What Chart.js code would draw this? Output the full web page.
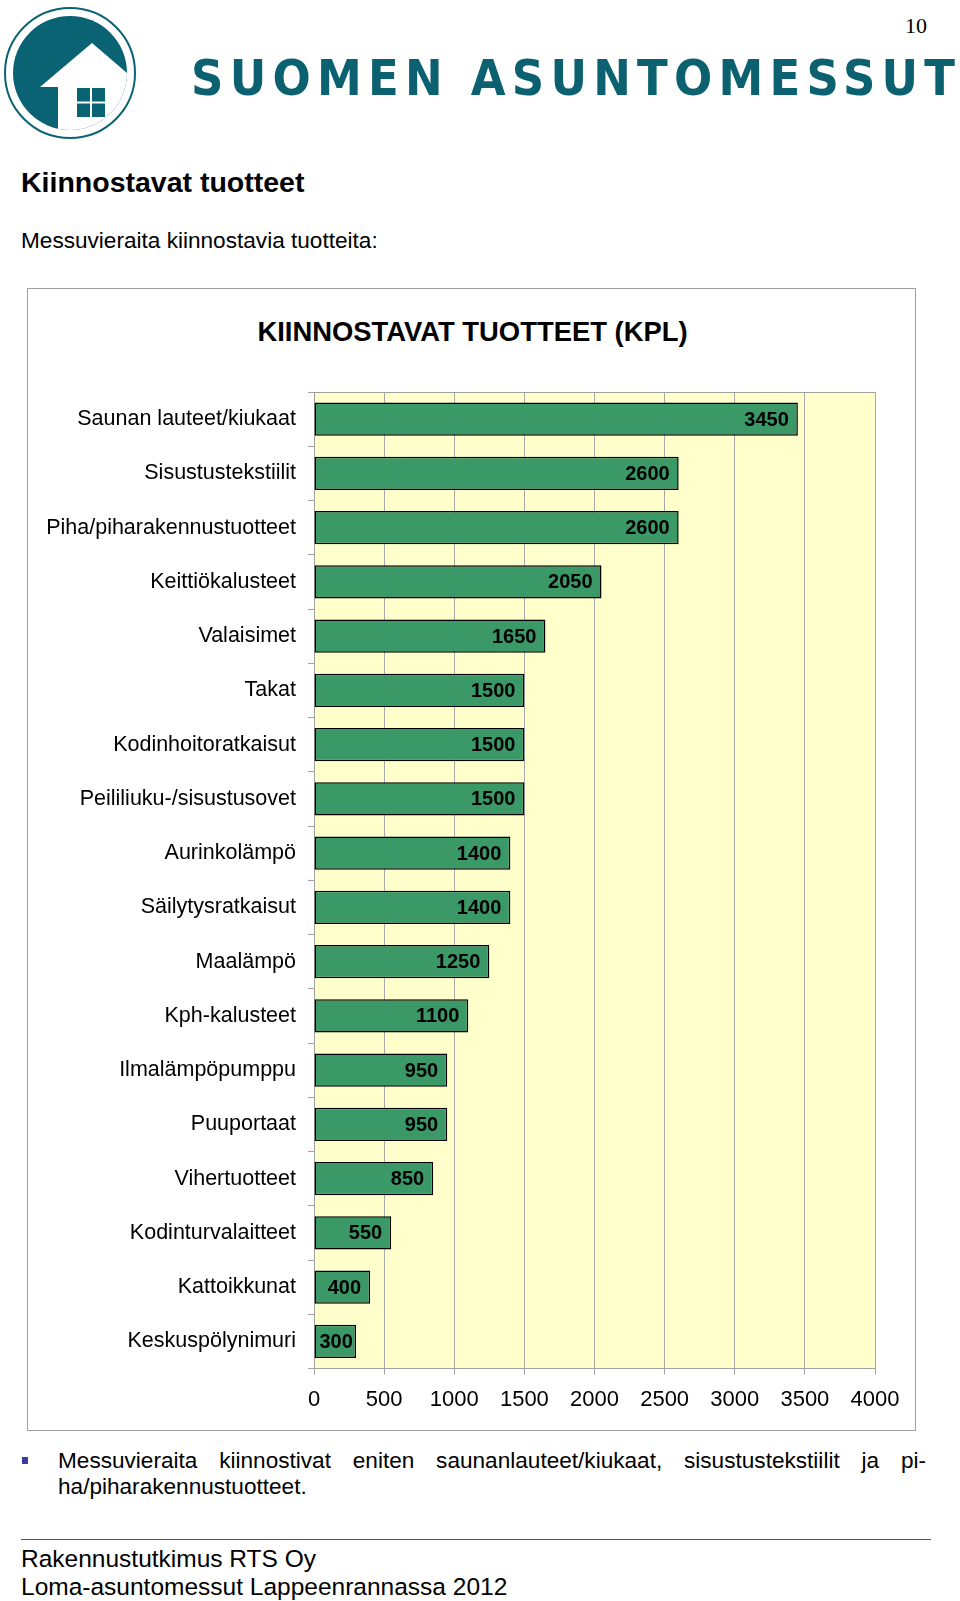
<!DOCTYPE html>
<html>
<head>
<meta charset="utf-8">
<script src="https://cdn.jsdelivr.net/npm/chart.js@4.4.1/dist/chart.umd.min.js"></script>
<style>
  html, body { margin:0; padding:0; background:#fff; }
  body { width:960px; height:1601px; position:relative; overflow:hidden; font-family:"Liberation Sans", Arial, sans-serif; color:#000; }
  .abs { position:absolute; white-space:nowrap; line-height:1; }
  #box { position:absolute; left:27px; top:288px; width:889px; height:1143px; border:1px solid #a0a0a0; box-sizing:border-box; }
  #wrap { position:absolute; left:28px; top:288px; width:889px; height:1144px; }
</style>
</head>
<body>
<svg class="abs" style="left:0;top:0" width="960" height="150" viewBox="0 0 960 150">
  <defs><clipPath id="cc"><circle cx="70" cy="73" r="57"/></clipPath></defs>
  <circle cx="70" cy="73" r="65" fill="none" stroke="#0a6372" stroke-width="2"/>
  <circle cx="70" cy="73" r="57" fill="#0a6372"/>
  <g clip-path="url(#cc)">
    <polygon points="40,87 92,43 140,84 140,140 58,140 58,87" fill="#fff"/>
  </g>
  <rect x="77" y="88" width="13" height="13.5" fill="#0a6372"/>
  <rect x="92" y="88" width="13" height="13.5" fill="#0a6372"/>
  <rect x="77" y="103.5" width="13" height="13.5" fill="#0a6372"/>
  <rect x="92" y="103.5" width="13" height="13.5" fill="#0a6372"/>
  <text x="191" y="95" font-family="DejaVu Sans Condensed, DejaVu Sans" font-stretch="condensed" font-weight="bold" font-size="50" fill="#0b6170" textLength="764" lengthAdjust="spacing">SUOMEN ASUNTOMESSUT</text>
  <text x="927" y="33" text-anchor="end" font-family="Liberation Serif" font-size="22" fill="#000">10</text>
</svg>

<div class="abs" style="left:21px;top:168px;font-size:28.5px;font-weight:bold;">Kiinnostavat tuotteet</div>
<div class="abs" style="left:21px;top:230px;font-size:22.6px;">Messuvieraita kiinnostavia tuotteita:</div>

<div id="box"></div>
<div class="abs" style="left:28px;width:889px;text-align:center;top:318px;font-size:27.4px;font-weight:bold;">KIINNOSTAVAT TUOTTEET (KPL)</div>
<div id="wrap"><canvas id="c" width="889" height="1144"></canvas></div>

<div class="abs" style="left:22px;top:1457px;width:6px;height:7px;background:#3a3aa0;"></div>
<div class="abs" style="left:58px;top:1450px;width:868px;font-size:22.6px;text-align:justify;text-align-last:justify;white-space:normal;">Messuvieraita kiinnostivat eniten saunanlauteet/kiukaat, sisustustekstiilit ja pi-</div>
<div class="abs" style="left:58px;top:1476px;font-size:22.6px;">ha/piharakennustuotteet.</div>

<div class="abs" style="left:21px;top:1539px;width:910px;height:0;border-top:1.5px solid #4a4a9a;"></div>
<div class="abs" style="left:21px;top:1547px;font-size:24.5px;">Rakennustutkimus RTS Oy</div>
<div class="abs" style="left:21px;top:1575px;font-size:24.5px;">Loma-asuntomessut Lappeenrannassa 2012</div>

<script>
const categories = [
  "Saunan lauteet/kiukaat",
  "Sisustustekstiilit",
  "Piha/piharakennustuotteet",
  "Keittiökalusteet",
  "Valaisimet",
  "Takat",
  "Kodinhoitoratkaisut",
  "Peililiuku-/sisustusovet",
  "Aurinkolämpö",
  "Säilytysratkaisut",
  "Maalämpö",
  "Kph-kalusteet",
  "Ilmalämpöpumppu",
  "Puuportaat",
  "Vihertuotteet",
  "Kodinturvalaitteet",
  "Kattoikkunat",
  "Keskuspölynimuri"
];
const values = [3450, 2600, 2600, 2050, 1650, 1500, 1500, 1500, 1400, 1400, 1250, 1100, 950, 950, 850, 550, 400, 300];
const xTicks = [0, 500, 1000, 1500, 2000, 2500, 3000, 3500, 4000];

const plotBg = {
  id: 'plotBg',
  beforeDraw(chart) {
    const {ctx, chartArea: a} = chart;
    ctx.save();
    ctx.fillStyle = '#ffffcc';
    ctx.fillRect(a.left, a.top, a.right - a.left, a.bottom - a.top);
    ctx.restore();
  },
  afterDraw(chart) {
    const {ctx, chartArea: a} = chart;
    ctx.save();
    ctx.strokeStyle = '#a0a0a0';
    ctx.lineWidth = 1;
    ctx.beginPath();
    ctx.moveTo(a.left, a.top + 0.5);
    ctx.lineTo(a.right, a.top + 0.5);
    ctx.stroke();
    ctx.restore();
  }
};

const barLabels = {
  id: 'barLabels',
  afterDatasetsDraw(chart) {
    const {ctx} = chart;
    const meta = chart.getDatasetMeta(0);
    ctx.save();
    ctx.font = 'bold 20px "Liberation Sans", Arial, sans-serif';
    ctx.fillStyle = '#000';
    ctx.textAlign = 'right';
    ctx.textBaseline = 'middle';
    meta.data.forEach((bar, i) => {
      const txt = String(chart.data.datasets[0].data[i]);
      const w = ctx.measureText(txt).width;
      const right = Math.max(bar.x - 9, bar.base + w + 5);
      ctx.fillText(txt, right, bar.y + 1);
    });
    ctx.restore();
  }
};

new Chart(document.getElementById('c'), {
  type: 'bar',
  data: {
    labels: categories,
    datasets: [{
      data: values,
      backgroundColor: '#3a9966',
      borderColor: '#000',
      borderWidth: 1.5,
      borderSkipped: false,
      barPercentage: 0.61,
      categoryPercentage: 1.0
    }]
  },
  options: {
    indexAxis: 'y',
    responsive: false,
    animation: false,
    devicePixelRatio: 1,
    layout: { padding: { top: 104, right: 42, bottom: 0, left: 0 } },
    plugins: { legend: { display: false }, title: { display: false }, tooltip: { enabled: false } },
    scales: {
      x: {
        min: 0, max: 4000,
        afterBuildTicks(s) { s.ticks = xTicks.map(v => ({ value: v })); },
        afterFit(s) { s.height = 63.5; },
        grid: { color: '#a8a8a8', lineWidth: 1, tickLength: 6, drawTicks: true },
        border: { display: true, color: '#a0a0a0' },
        ticks: { padding: 12, color: '#000', font: { size: 22, family: '"Liberation Sans", Arial, sans-serif' }, maxRotation: 0,
                 callback: (v) => String(v) }
      },
      y: {
        afterFit(s) { s.width = 286; },
        grid: { display: true, drawOnChartArea: false, offset: true, tickLength: 6, color: '#a0a0a0' },
        border: { display: true, color: '#a0a0a0' },
        ticks: { padding: 12, color: '#000', font: { size: 21.5, family: '"Liberation Sans", Arial, sans-serif' }, autoSkip: false }
      }
    }
  },
  plugins: [plotBg, barLabels]
});
</script>
</body>
</html>
